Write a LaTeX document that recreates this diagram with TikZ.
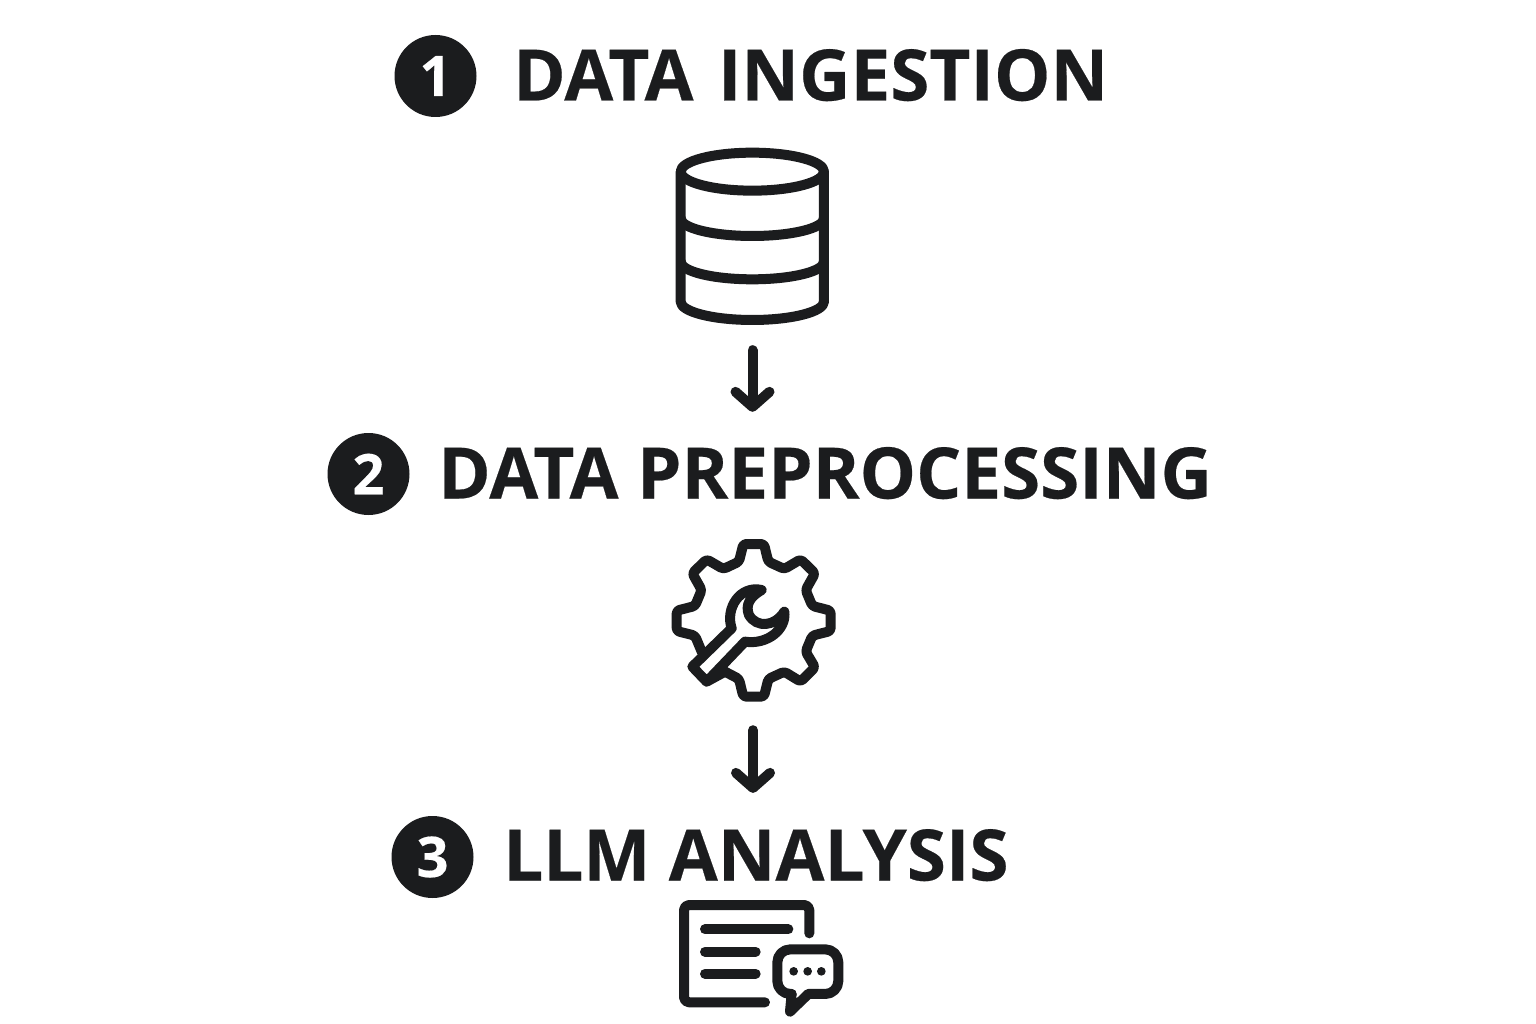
\documentclass[tikz,border=0pt]{standalone}
\usepackage{fontspec}
\setmainfont{Open Sans}[BoldFeatures={FakeBold=0.3}]
\usetikzlibrary{arrows.meta}
\definecolor{ink}{HTML}{1B1C1E}
\tikzset{
  badge/.style={circle,fill=ink,text=white,minimum size=82pt,inner sep=0pt,font=\fontsize{56}{56}\selectfont\bfseries},
  titletext/.style={anchor=base west,inner sep=0pt,text=ink,font=\fontsize{71}{71}\selectfont\bfseries},
  iconbox/.style={inner sep=0pt,minimum width=150pt},
  iconline/.style={draw=ink,line width=10pt,line cap=round,line join=round},
  flow/.style={draw=ink,line width=10pt,line cap=round,-{Straight Barb[length=15pt,width=34pt,round,line width=10pt]}},
}
\begin{document}
\begin{tikzpicture}[x=1pt,y=-1pt]
\useasboundingbox[fill=white] (0,0) rectangle (1536,1024);

\node[badge] (b1) at (435.5,76) {1};
\node[titletext] (t1) at (513,100.5) {DATA\hspace{6pt} INGESTION};
\node[badge] (b2) at (368.5,474) {2};
\node[titletext] (t2) at (438,498.5) {DATA PREPROCESSING};
\node[badge] (b3) at (432.5,857) {3};
\node[titletext] (t3) at (503,880.5) {LLM ANALYSIS};

\node[iconbox,minimum height=178pt] (db) at (752.5,237) {};
\node[iconbox,minimum height=160pt] (gear) at (753,620) {};
\node[iconbox,minimum height=110pt] (doc) at (761,957) {};

% database
\begin{scope}[shift={(660,140)},x=0.3333pt,y=-0.3333pt]
  \draw[iconline] (277,95) ellipse [x radius=215,y radius=57];
  \draw[iconline] (62,95) -- (62,485) arc [start angle=180,end angle=0,x radius=215,y radius=55] -- (492,95);
  \draw[iconline] (62,235) arc [start angle=180,end angle=0,x radius=215,y radius=53];
  \draw[iconline] (62,365) arc [start angle=180,end angle=0,x radius=215,y radius=53];
\end{scope}

% gear with wrench
\begin{scope}[shift={(650,530)},x=0.3333pt,y=-0.3333pt]
  \draw[iconline,rounded corners=3pt]
    (155,365) -- (135,317) -- (80,303) -- (80,242) -- (135,228) -- (155,180)
    -- (127,130) -- (170,88) -- (220,117) -- (267,95) -- (280,42) -- (342,42)
    -- (355,95) -- (403,117) -- (452,88) -- (495,130) -- (467,180) -- (487,228)
    -- (542,242) -- (542,303) -- (487,317) -- (467,365) -- (495,412) -- (452,455)
    -- (403,425) -- (355,447) -- (342,500) -- (280,500) -- (267,447) -- (225,425);
  \draw[iconline]
    (225,425) -- (170,455) -- (127,410) -- (245,295)
    .. controls (225,235) and (270,165) .. (335,180)
    .. controls (300,200) and (285,225) .. (297,255)
    .. controls (320,295) and (375,290) .. (403,245)
    .. controls (410,300) and (350,345) .. (285,335)
    -- (170,455);
\end{scope}

% document with speech bubble
\begin{scope}[shift={(660,890)},x=0.3333pt,y=-0.3333pt]
  \draw[iconline,rounded corners=5pt] (448,130) -- (448,45) -- (72,45) -- (72,337) -- (315,337);
  \draw[iconline] (135,118) -- (385,118);
  \draw[iconline] (135,185) -- (287,185);
  \draw[iconline] (135,251) -- (287,251);
  \draw[iconline,rounded corners=13pt]
    (395,312) -- (352,312) -- (352,178) -- (535,178) -- (535,312) -- (445,312);
  \draw[iconline] (445,312) -- (390,365) -- (395,312);
  \fill[ink] (401,244) circle [radius=13];
  \fill[ink] (443,244) circle [radius=13];
  \fill[ink] (484,244) circle [radius=13];
\end{scope}

\draw[flow,shorten <=24pt,shorten >=35pt] (db.south) -- (db.south |- t2.north);
\draw[flow,shorten <=30pt,shorten >=36pt] (gear.south) -- (gear.south |- t3.north);
\end{tikzpicture}
\end{document}
